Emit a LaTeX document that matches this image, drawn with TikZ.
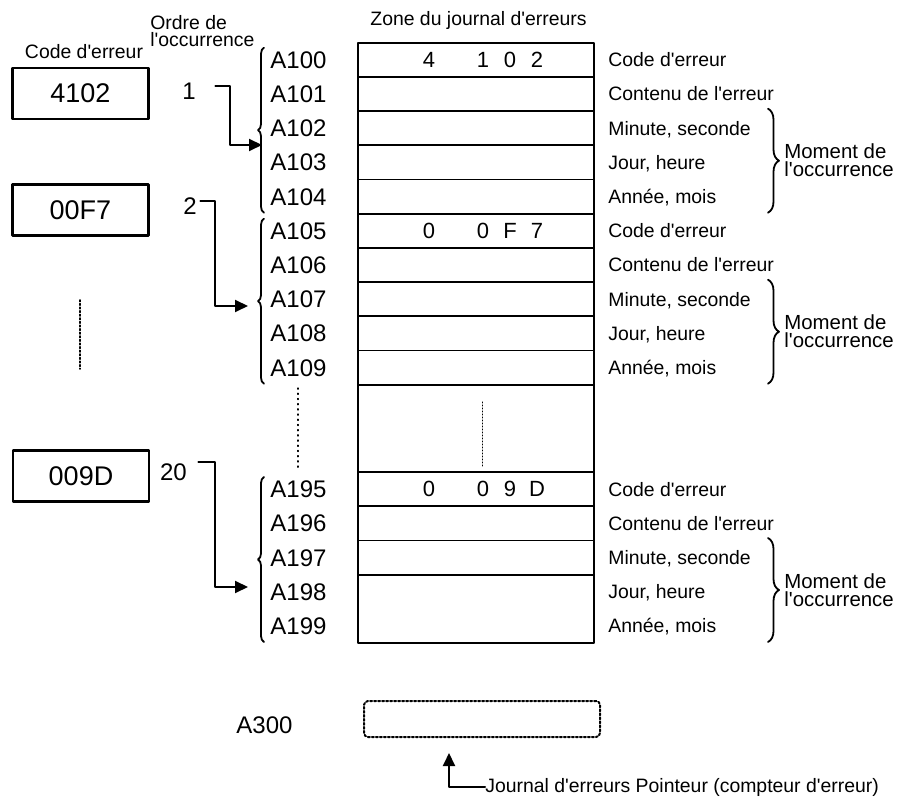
\documentclass[tikz,border=0pt]{standalone}
\usepackage{fontspec}
\setmainfont{Liberation Sans}[Ligatures=TeXOff]
\usetikzlibrary{arrows.meta,decorations.pathreplacing}
\begin{document}
\begin{tikzpicture}[x=0.5pt,y=-0.5pt,line join=round,line cap=round,>={Triangle[length=6.5pt,width=6pt]},
	lbl/.style={font=\fontsize{9.7}{8.5}\selectfont,inner sep=0pt},
	adr/.style={font=\fontsize{12}{14}\selectfont,inner sep=0pt},
	dig/.style={font=\fontsize{11}{13}\selectfont,inner sep=0pt},
	codebox/.style={draw,line width=1.4pt,minimum width=68pt,minimum height=25.5pt,inner sep=0pt,font=\fontsize{13.5}{15}\selectfont},
	ptr/.style={->,line width=1pt},
	brc/.style={decorate,decoration={brace,amplitude=#1},line width=0.9pt},brc/.default=3pt]
	\useasboundingbox (0,0) rectangle (904,801);
	\node[lbl] (hcode) at (84,52) {Code d'erreur};
	\node[lbl,anchor=west,align=left] (hordre) at (150,31.5) {Ordre de\\l'occurrence};
	\node[lbl,anchor=west] (hzone) at (370,20) {Zone du journal d'erreurs};
	\node[codebox] (code1) at (80.4,93.5) {4102};
	\node[codebox] (code2) at (80.4,210) {00F7};
	\node[codebox] (code3) at (81,476) {009D};
	\draw[line width=1pt] (358,42.7) rectangle (594,643);
	\foreach \k in {1,...,10} \draw[line width=0.9pt] (358,{42.7+34.2*\k})--(594,{42.7+34.2*\k});
	\foreach \k in {0,...,3} \draw[line width=0.9pt] (358,{472+34.2*\k})--(594,{472+34.2*\k});
	\foreach \t/\n/\a/\b/\c/\d in {42.7/100/4/1/0/2,213.7/105/0/0/F/7,472/195/0/0/9/D} {
		\foreach \k/\txt in {0/Code d'erreur,1/Contenu de l'erreur,2/{Minute, seconde},3/{Jour, heure},4/{Année, mois}} {
			\pgfmathtruncatemacro{\m}{\n+\k}
			\node[adr,anchor=base west] (a\m) at (270,{\t+17.1+34.2*\k+8.6}) {A\m};
			\node[lbl,anchor=base west] (r\m) at (608,{\t+17.1+34.2*\k+7}) {\txt};}
		\foreach \px/\ch in {429/\a,483/\b,510/\c,537/\d}
			\node[dig] (c\n-\px) at (\px,{\t+17.1}) {\ch};
		\draw[brc] (264,{\t+170}) -- (264,{\t+5});
		\draw[brc=5.5pt] (768,{\t+66}) -- (768,{\t+170});
		\node[lbl,anchor=west,align=left,font=\fontsize{10.2}{9}\selectfont] (m\n) at (784,{\t+118}) {Moment de\\l'occurrence};
	}
	\node[adr] (o1) at (189,91.5) {1};
	\node[adr] (o2) at (190,206.5) {2};
	\node[adr] (o3) at (173.5,472.5) {20};
	\coordinate (in1) at (262,145);
	\coordinate (in2) at (248,306);
	\coordinate (in3) at (248,587);
	\draw[ptr] ([xshift=9.7pt,yshift=-1.5pt]o1.north east) -| (230,145) -- (in1);
	\draw[ptr] ([xshift=1.7pt,yshift=-1.4pt]o2.north east) -| (215,306) -- (in2);
	\draw[ptr] ([xshift=5.6pt,yshift=0.9pt]o3.north east) -| (215,587) -- (in3);
	\draw[densely dotted,line width=0.8pt] (80,300)--(80,369);
	\draw[dotted,line width=0.6pt] (298,388)--(298,470);
	\draw[densely dotted,line width=0.5pt] (482,402)--(482,468);
	\node[adr] (a300) at (264.5,725) {A300};
	\node[draw,densely dotted,line width=1pt,rounded corners=2pt,minimum width=118pt,minimum height=18pt] (ptrbox) at (482,719) {};
	\node[lbl,anchor=west] (jp) at (485,787) {Journal d'erreurs Pointeur (compteur d'erreur)};
	\coordinate (pt) at (449,753);
	\draw[ptr] (jp.west) -| (pt);
\end{tikzpicture}
\end{document}
